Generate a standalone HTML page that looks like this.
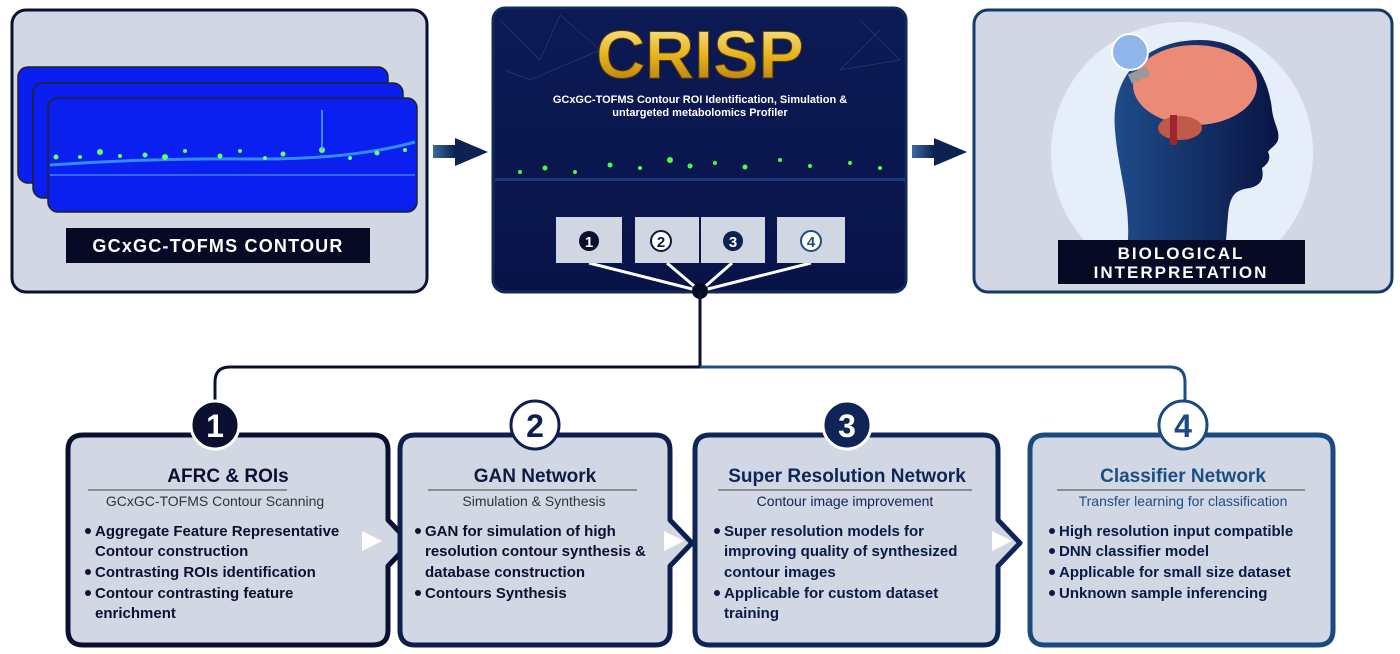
<!DOCTYPE html>
<html><head><meta charset="utf-8"><style>
html,body{margin:0;padding:0;background:#fff;width:1400px;height:654px;overflow:hidden}
svg{display:block}
text{font-family:"Liberation Sans",sans-serif}
</style></head><body>
<svg width="1400" height="654" viewBox="0 0 1400 654">
<defs>
<linearGradient id="navy" x1="0" y1="0" x2="0" y2="1"><stop offset="0" stop-color="#0c1a55"/><stop offset="1" stop-color="#081448"/></linearGradient>
<linearGradient id="gold" x1="0" y1="0" x2="0" y2="1"><stop offset="0" stop-color="#fff2a0"/><stop offset=".5" stop-color="#e6b320"/><stop offset="1" stop-color="#a86e08"/></linearGradient>
<linearGradient id="head" x1="0" y1="0" x2="1" y2="0"><stop offset="0" stop-color="#1e4c8a"/><stop offset="1" stop-color="#0a1445"/></linearGradient>
<linearGradient id="arr" x1="0" y1="0" x2="1" y2="0"><stop offset="0" stop-color="#3a6aa0"/><stop offset="1" stop-color="#0c2250"/></linearGradient>
<radialGradient id="spec" cx=".5" cy=".5" r=".5"><stop offset="0" stop-color="#5f5"/><stop offset="1" stop-color="#0f0" stop-opacity="0"/></radialGradient>
</defs>

<!-- top box 1 -->
<g>
<rect x="12" y="10" width="415" height="282" rx="14" fill="#d1d8e4" stroke="#0b1030" stroke-width="3"/>
<g>
<rect x="18" y="67" width="370" height="116" rx="10" fill="#0b1ef2" stroke="#222" stroke-width="1.5"/>
<rect x="33" y="83" width="370" height="115" rx="10" fill="#0b1ef2" stroke="#222" stroke-width="1.5"/>
<rect x="48" y="98" width="369" height="114" rx="10" fill="#0a1ff0" stroke="#222" stroke-width="1.5"/>
<path d="M50 165 Q150 158 250 159 T415 142" stroke="#3fa8ff" stroke-width="3" fill="none" opacity=".8"/>
<line x1="50" y1="175" x2="415" y2="175" stroke="#4080ff" stroke-width="1.5"/>
<g fill="#6f6">
<circle cx="56" cy="157" r="2.5"/><circle cx="80" cy="157" r="2"/><circle cx="100" cy="152" r="3"/><circle cx="120" cy="156" r="2"/><circle cx="145" cy="155" r="2.5"/><circle cx="165" cy="157" r="3"/><circle cx="185" cy="151" r="2"/><circle cx="220" cy="156" r="2.5"/><circle cx="240" cy="151" r="2"/><circle cx="265" cy="158" r="2"/><circle cx="283" cy="154" r="2.5"/><circle cx="322" cy="150" r="3"/><circle cx="350" cy="158" r="2"/><circle cx="377" cy="153" r="2.5"/><circle cx="405" cy="150" r="2"/>
</g>
<line x1="322" y1="150" x2="322" y2="110" stroke="#5af" stroke-width="1.5"/>
</g>
<rect x="66" y="228" width="304" height="35" fill="#060a24"/>
<text x="218" y="252" text-anchor="middle" fill="#fff" font-size="18" font-weight="bold" letter-spacing="1.2">GCxGC-TOFMS CONTOUR</text>
</g>

<!-- arrows -->
<g><rect x="433" y="145" width="22" height="13" fill="url(#arr)"/><polygon points="455,138 488,152 455,166" fill="#0c2250"/></g>
<g><rect x="912" y="145" width="22" height="13" fill="url(#arr)"/><polygon points="934,138 967,152 934,166" fill="#0c2250"/></g>

<!-- top box 2 CRISP -->
<g>
<rect x="493" y="8" width="413" height="284" rx="12" fill="url(#navy)" stroke="#102a5c" stroke-width="3"/>
<g stroke="#4a5a90" stroke-width=".7" opacity=".5" fill="none">
<path d="M500 20 L540 60 L560 15 L600 50 L530 80 L505 70"/><path d="M860 20 L900 60 L840 70 L880 30"/>
</g>
<text x="700" y="78" text-anchor="middle" font-size="68" font-weight="bold" fill="url(#gold)" stroke="#5a3a05" stroke-width="1">CRISP</text>
<text x="700" y="103" text-anchor="middle" fill="#fff" font-size="11" font-weight="bold">GCxGC-TOFMS Contour ROI Identification, Simulation &amp;</text>
<text x="700" y="116" text-anchor="middle" fill="#fff" font-size="11" font-weight="bold">untargeted metabolomics Profiler</text>
<g fill="#4f4">
<rect x="495" y="178" width="410" height="3" fill="#1a4a9a" opacity=".7"/>
<circle cx="520" cy="172" r="2"/><circle cx="545" cy="168" r="2.5"/><circle cx="575" cy="172" r="2"/><circle cx="610" cy="165" r="2.5"/><circle cx="640" cy="168" r="2"/><circle cx="670" cy="160" r="3"/><circle cx="690" cy="166" r="2.5"/><circle cx="715" cy="163" r="2"/><circle cx="745" cy="167" r="2.5"/><circle cx="780" cy="160" r="2"/><circle cx="810" cy="166" r="2"/><circle cx="850" cy="163" r="2"/><circle cx="880" cy="168" r="2"/>
</g>
<g font-weight="bold" font-size="18" text-anchor="middle">
<line x1="589" y1="263" x2="700" y2="291" stroke="#fff" stroke-width="3"/><line x1="667" y1="263" x2="700" y2="291" stroke="#fff" stroke-width="3"/><line x1="732" y1="263" x2="700" y2="291" stroke="#fff" stroke-width="3"/><line x1="811" y1="263" x2="700" y2="291" stroke="#fff" stroke-width="3"/>
<rect x="556" y="217" width="66" height="46" fill="#d0d6e2"/><rect x="635" y="217" width="64" height="46" fill="#d0d6e2"/><rect x="701" y="217" width="64" height="46" fill="#d0d6e2"/><rect x="777" y="217" width="68" height="46" fill="#d0d6e2"/>
<circle cx="589" cy="241" r="10" fill="#0a0f2a"/><text x="589" y="247" fill="#fff" font-size="15">1</text>
<circle cx="661" cy="241" r="10" fill="#fff" stroke="#0a1a45" stroke-width="2"/><text x="661" y="247" fill="#0a1a45" font-size="15">2</text>
<circle cx="733" cy="241" r="10" fill="#0c2250"/><text x="733" y="247" fill="#fff" font-size="15">3</text>
<circle cx="811" cy="241" r="10" fill="#fff" stroke="#1d4d85" stroke-width="2"/><text x="811" y="247" fill="#1d4d85" font-size="15">4</text>
</g>
</g>
<circle cx="700" cy="291" r="8" fill="#060a24"/>

<!-- top box 3 -->
<g>
<rect x="974" y="10" width="418" height="282" rx="14" fill="#d1d8e4" stroke="#123a6a" stroke-width="3"/>
<circle cx="1182" cy="153" r="131" fill="#e6eefa"/>
<path d="M1128 240 C1130 200 1118 170 1115 130 C1110 70 1150 40 1200 40 C1245 40 1268 70 1272 110 C1274 125 1280 130 1278 140 C1276 146 1270 148 1268 152 C1272 160 1266 165 1262 168 C1264 178 1262 185 1250 188 C1235 190 1230 195 1228 215 L1226 240 Z" fill="url(#head)"/>
<ellipse cx="1195" cy="85" rx="62" ry="40" fill="#ec8a78"/>
<ellipse cx="1180" cy="128" rx="22" ry="12" fill="#c05a48"/>
<rect x="1170" y="115" width="7" height="30" fill="#a0242e"/>
<g><circle cx="1130" cy="52" r="18" fill="#8fb6ea" stroke="#fff" stroke-width="2"/><rect x="1129" y="70" width="20" height="10" fill="#999" transform="rotate(-25 1139 75)"/></g>
<rect x="1058" y="240" width="247" height="44" fill="#060a24"/>
<text x="1181" y="259" text-anchor="middle" fill="#fff" font-size="17" font-weight="bold" letter-spacing="2">BIOLOGICAL</text>
<text x="1181" y="278" text-anchor="middle" fill="#fff" font-size="17" font-weight="bold" letter-spacing="2">INTERPRETATION</text>
</g>

<!-- connector -->
<g fill="none" stroke-width="3">
<path d="M700 291 V367 H230 Q215 367 215 382 V402" stroke="#0b1030"/>
<path d="M700 367 H1170 Q1185 367 1185 382 V402" stroke="#1d4d85"/>
</g>

<!-- bottom boxes -->
<g>
<path d="M83 435 H373 Q388 435 388 450 V520 L410 543 L388 566 V630 Q388 645 373 645 H83 Q68 645 68 630 V450 Q68 435 83 435Z" fill="#d1d8e4" stroke="#0b1030" stroke-width="5" stroke-linejoin="round"/>
<polygon points="362,531 382,541 362,551" fill="#fff"/>
<circle cx="215" cy="425" r="24" fill="#0b1030" stroke="#fff" stroke-width="3"/><text x="215" y="437" text-anchor="middle" fill="#fff" font-size="32" font-weight="bold">1</text>
<text x="228" y="482" text-anchor="middle" fill="#0b1030" font-size="19" font-weight="bold">AFRC &amp; ROIs</text>
<line x1="88" y1="490" x2="287" y2="490" stroke="#444"/>
<text x="215" y="506" text-anchor="middle" fill="#333" font-size="14">GCxGC-TOFMS Contour Scanning</text>
<g fill="#0b1030" font-size="15" font-weight="bold">
<circle cx="88" cy="531" r="3"/><text x="95" y="536">Aggregate Feature Representative</text>
<text x="95" y="556">Contour construction</text>
<circle cx="88" cy="572" r="3"/><text x="95" y="577">Contrasting ROIs identification</text>
<circle cx="88" cy="593" r="3"/><text x="95" y="598">Contour contrasting feature</text>
<text x="95" y="618">enrichment</text>
</g>
</g>

<g>
<path d="M415 435 H655 Q670 435 670 450 V520 L692 543 L670 566 V630 Q670 645 655 645 H415 Q400 645 400 630 V450 Q400 435 415 435Z" fill="#d1d8e4" stroke="#0f1e50" stroke-width="5" stroke-linejoin="round"/>
<polygon points="664,531 684,541 664,551" fill="#fff"/>
<circle cx="535" cy="425" r="24" fill="#fff" stroke="#0f1e50" stroke-width="3"/><text x="535" y="437" text-anchor="middle" fill="#0f1e50" font-size="32" font-weight="bold">2</text>
<text x="535" y="482" text-anchor="middle" fill="#0f1a40" font-size="19" font-weight="bold">GAN Network</text>
<line x1="428" y1="490" x2="637" y2="490" stroke="#444"/>
<text x="534" y="506" text-anchor="middle" fill="#333" font-size="14">Simulation &amp; Synthesis</text>
<g fill="#0b1030" font-size="15" font-weight="bold">
<circle cx="418" cy="531" r="3"/><text x="425" y="536">GAN for simulation of high</text>
<text x="425" y="556">resolution contour synthesis &amp;</text>
<text x="425" y="577">database construction</text>
<circle cx="418" cy="593" r="3"/><text x="425" y="598">Contours Synthesis</text>
</g>
</g>

<g>
<path d="M710 435 H983 Q998 435 998 450 V520 L1020 543 L998 566 V630 Q998 645 983 645 H710 Q695 645 695 630 V450 Q695 435 710 435Z" fill="#d1d8e4" stroke="#0f2558" stroke-width="5" stroke-linejoin="round"/>
<polygon points="992,531 1012,541 992,551" fill="#fff"/>
<circle cx="847" cy="425" r="24" fill="#0f2558" stroke="#fff" stroke-width="3"/><text x="847" y="437" text-anchor="middle" fill="#fff" font-size="32" font-weight="bold">3</text>
<text x="847" y="482" text-anchor="middle" fill="#0f2558" font-size="19" font-weight="bold">Super Resolution Network</text>
<line x1="718" y1="490" x2="972" y2="490" stroke="#444"/>
<text x="845" y="506" text-anchor="middle" fill="#0f2558" font-size="14">Contour image improvement</text>
<g fill="#0b1a45" font-size="15" font-weight="bold">
<circle cx="717" cy="531" r="3"/><text x="724" y="536">Super resolution models for</text>
<text x="724" y="556">improving quality of synthesized</text>
<text x="724" y="577">contour images</text>
<circle cx="717" cy="593" r="3"/><text x="724" y="598">Applicable for custom dataset</text>
<text x="724" y="618">training</text>
</g>
</g>

<g>
<path d="M1045 435 H1318 Q1333 435 1333 450 V630 Q1333 645 1318 645 H1045 Q1030 645 1030 630 V450 Q1030 435 1045 435Z" fill="#d1d8e4" stroke="#1b4a80" stroke-width="5"/>
<circle cx="1183" cy="425" r="24" fill="#fff" stroke="#1b4a80" stroke-width="3"/><text x="1183" y="437" text-anchor="middle" fill="#1b4a80" font-size="32" font-weight="bold">4</text>
<text x="1183" y="482" text-anchor="middle" fill="#1d4d85" font-size="19" font-weight="bold">Classifier Network</text>
<line x1="1057" y1="490" x2="1305" y2="490" stroke="#444"/>
<text x="1183" y="506" text-anchor="middle" fill="#1d4d85" font-size="14">Transfer learning for classification</text>
<g fill="#0b1a45" font-size="15" font-weight="bold">
<circle cx="1052" cy="531" r="3"/><text x="1059" y="536">High resolution input compatible</text>
<circle cx="1052" cy="551" r="3"/><text x="1059" y="556">DNN classifier model</text>
<circle cx="1052" cy="572" r="3"/><text x="1059" y="577">Applicable for small size dataset</text>
<circle cx="1052" cy="593" r="3"/><text x="1059" y="598">Unknown sample inferencing</text>
</g>
</g>
</svg>
</body></html>
